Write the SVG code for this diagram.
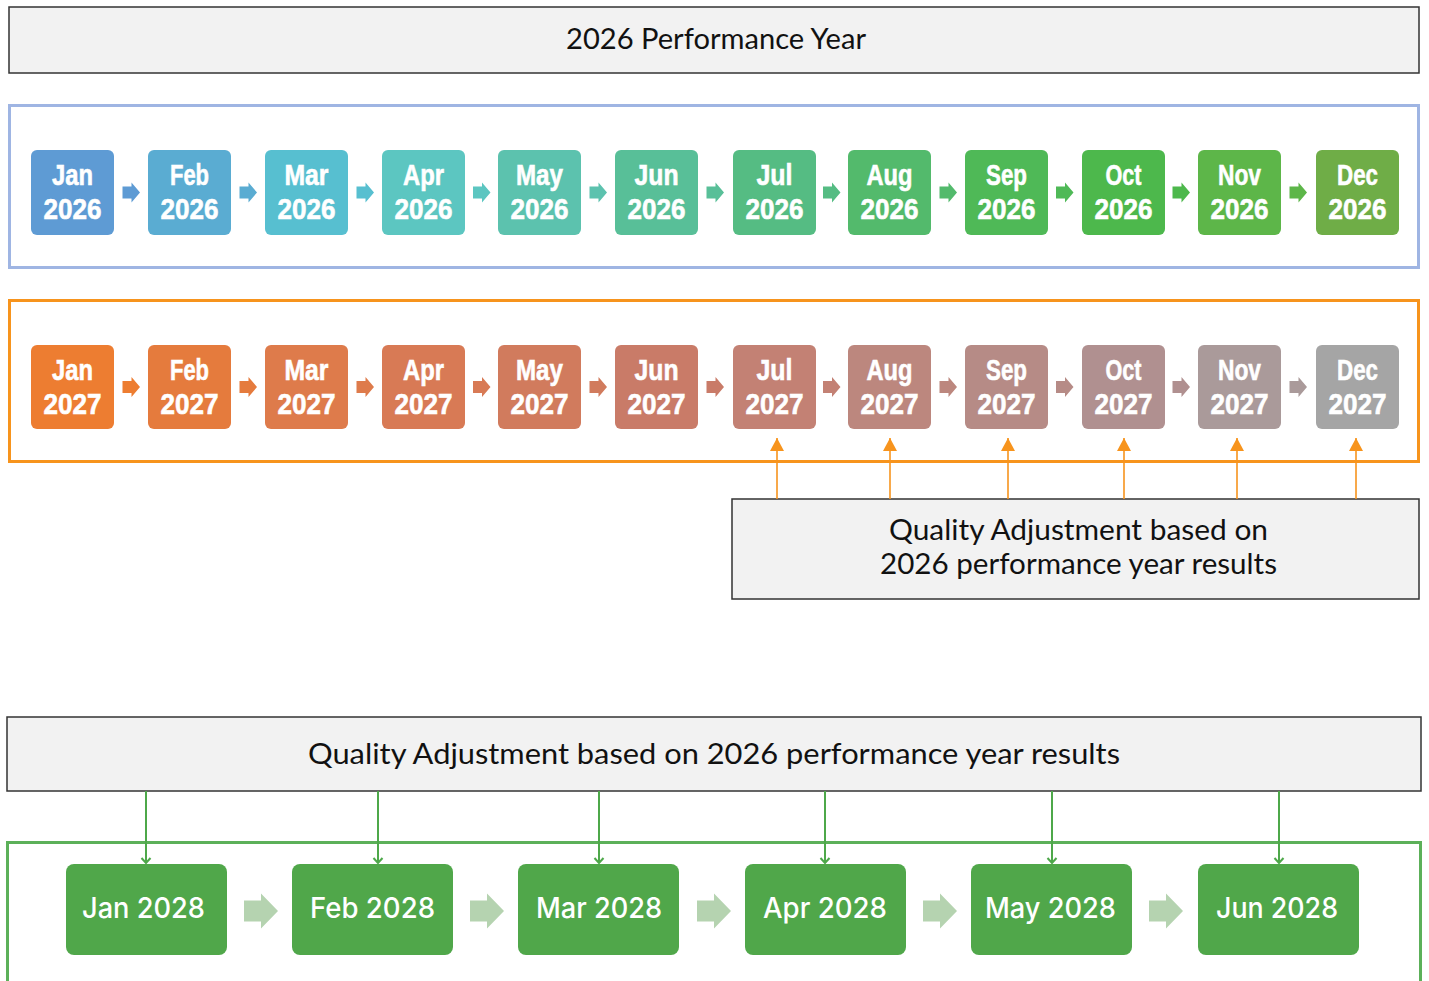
<svg xmlns="http://www.w3.org/2000/svg" xmlns:xlink="http://www.w3.org/1999/xlink" width="1429" height="981" viewBox="0 0 1429 981">
<style>
.hdr{fill:#f2f2f2;stroke:#333;stroke-width:1.5}
.ht{font-family:Lato,"Open Sans","Liberation Sans",sans-serif;font-size:29px;fill:#111;text-anchor:middle}
.m{font-family:"Liberation Sans",Arial,sans-serif;font-weight:bold;font-size:29px;fill:#fff;stroke:#fff;stroke-width:0.6;text-anchor:middle}
.b3{font-family:Inter,Lato,"Open Sans","Liberation Sans",sans-serif;font-weight:500;font-size:28px;fill:#fff;text-anchor:middle}
.oc{stroke:#f7941d;stroke-width:1.6;fill:none}
.gc{stroke:#4ea84a;stroke-width:2;fill:none}
</style>
<defs>
<path id="sa" d="M-8.5,-6 H0.5 V-10 L9,0 L0.5,10 V6 H-8.5 Z"/>
<path id="ba" d="M-17,-10.5 H0 V-17.5 L17,0 L0,17.5 V10.5 H-17 Z"/>
<marker id="oa" markerUnits="userSpaceOnUse" markerWidth="16" markerHeight="16" viewBox="0 0 16 16" refX="8" refY="1" orient="0">
<path d="M1,14 L8,1 L15,14 Z" fill="#f7941d"/>
</marker>
<marker id="ga" markerUnits="userSpaceOnUse" markerWidth="12" markerHeight="10" viewBox="0 0 12 10" refX="6" refY="8" orient="0">
<path d="M1.5,3 L6,8 L10.5,3" fill="none" stroke="#4ea84a" stroke-width="2"/>
</marker>
</defs>
<rect width="1429" height="981" fill="#fff"/>

<g id="title">
<rect class="hdr" x="9" y="7" width="1410" height="66"/>
<text class="ht" x="716" y="49" textLength="300" lengthAdjust="spacingAndGlyphs">2026 Performance Year</text>
</g>

<g id="row2026">
<rect x="9.5" y="105.5" width="1409" height="162" fill="none" stroke="#9fb5e3" stroke-width="3"/>
</g>
<g id="jan2026"><rect x="31" y="150" width="83" height="85" rx="6" fill="#5e9bd4"/><text class="m" x="72.5" y="185" textLength="41" lengthAdjust="spacingAndGlyphs">Jan</text><text class="m" x="72.5" y="219" textLength="58" lengthAdjust="spacingAndGlyphs">2026</text></g>
<g id="feb2026"><rect x="148" y="150" width="83" height="85" rx="6" fill="#5aacd2"/><text class="m" x="189.5" y="185" textLength="39" lengthAdjust="spacingAndGlyphs">Feb</text><text class="m" x="189.5" y="219" textLength="58" lengthAdjust="spacingAndGlyphs">2026</text></g>
<g id="mar2026"><rect x="265" y="150" width="83" height="85" rx="6" fill="#57bfd0"/><text class="m" x="306.5" y="185" textLength="44" lengthAdjust="spacingAndGlyphs">Mar</text><text class="m" x="306.5" y="219" textLength="58" lengthAdjust="spacingAndGlyphs">2026</text></g>
<g id="apr2026"><rect x="382" y="150" width="83" height="85" rx="6" fill="#5cc6c1"/><text class="m" x="423.5" y="185" textLength="41" lengthAdjust="spacingAndGlyphs">Apr</text><text class="m" x="423.5" y="219" textLength="58" lengthAdjust="spacingAndGlyphs">2026</text></g>
<g id="may2026"><rect x="498" y="150" width="83" height="85" rx="6" fill="#5cc2ae"/><text class="m" x="539.5" y="185" textLength="47" lengthAdjust="spacingAndGlyphs">May</text><text class="m" x="539.5" y="219" textLength="58" lengthAdjust="spacingAndGlyphs">2026</text></g>
<g id="jun2026"><rect x="615" y="150" width="83" height="85" rx="6" fill="#58bf98"/><text class="m" x="656.5" y="185" textLength="44" lengthAdjust="spacingAndGlyphs">Jun</text><text class="m" x="656.5" y="219" textLength="58" lengthAdjust="spacingAndGlyphs">2026</text></g>
<g id="jul2026"><rect x="733" y="150" width="83" height="85" rx="6" fill="#55bc83"/><text class="m" x="774.5" y="185" textLength="36" lengthAdjust="spacingAndGlyphs">Jul</text><text class="m" x="774.5" y="219" textLength="58" lengthAdjust="spacingAndGlyphs">2026</text></g>
<g id="aug2026"><rect x="848" y="150" width="83" height="85" rx="6" fill="#53ba6c"/><text class="m" x="889.5" y="185" textLength="46" lengthAdjust="spacingAndGlyphs">Aug</text><text class="m" x="889.5" y="219" textLength="58" lengthAdjust="spacingAndGlyphs">2026</text></g>
<g id="sep2026"><rect x="965" y="150" width="83" height="85" rx="6" fill="#4fb957"/><text class="m" x="1006.5" y="185" textLength="41" lengthAdjust="spacingAndGlyphs">Sep</text><text class="m" x="1006.5" y="219" textLength="58" lengthAdjust="spacingAndGlyphs">2026</text></g>
<g id="oct2026"><rect x="1082" y="150" width="83" height="85" rx="6" fill="#4db84c"/><text class="m" x="1123.5" y="185" textLength="36" lengthAdjust="spacingAndGlyphs">Oct</text><text class="m" x="1123.5" y="219" textLength="58" lengthAdjust="spacingAndGlyphs">2026</text></g>
<g id="nov2026"><rect x="1198" y="150" width="83" height="85" rx="6" fill="#5db649"/><text class="m" x="1239.5" y="185" textLength="43" lengthAdjust="spacingAndGlyphs">Nov</text><text class="m" x="1239.5" y="219" textLength="58" lengthAdjust="spacingAndGlyphs">2026</text></g>
<g id="dec2026"><rect x="1316" y="150" width="83" height="85" rx="6" fill="#6fad47"/><text class="m" x="1357.5" y="185" textLength="41" lengthAdjust="spacingAndGlyphs">Dec</text><text class="m" x="1357.5" y="219" textLength="58" lengthAdjust="spacingAndGlyphs">2026</text></g>

<g id="row2027">
<rect x="9.5" y="300.5" width="1409" height="161" fill="none" stroke="#f7941d" stroke-width="3"/>
</g>
<g id="jan2027"><rect x="31" y="345" width="83" height="84" rx="6" fill="#ed7d31"/><text class="m" x="72.5" y="380" textLength="41" lengthAdjust="spacingAndGlyphs">Jan</text><text class="m" x="72.5" y="414" textLength="58" lengthAdjust="spacingAndGlyphs">2027</text></g>
<g id="feb2027"><rect x="148" y="345" width="83" height="84" rx="6" fill="#e57b3d"/><text class="m" x="189.5" y="380" textLength="39" lengthAdjust="spacingAndGlyphs">Feb</text><text class="m" x="189.5" y="414" textLength="58" lengthAdjust="spacingAndGlyphs">2027</text></g>
<g id="mar2027"><rect x="265" y="345" width="83" height="84" rx="6" fill="#de7b4b"/><text class="m" x="306.5" y="380" textLength="44" lengthAdjust="spacingAndGlyphs">Mar</text><text class="m" x="306.5" y="414" textLength="58" lengthAdjust="spacingAndGlyphs">2027</text></g>
<g id="apr2027"><rect x="382" y="345" width="83" height="84" rx="6" fill="#d87a55"/><text class="m" x="423.5" y="380" textLength="41" lengthAdjust="spacingAndGlyphs">Apr</text><text class="m" x="423.5" y="414" textLength="58" lengthAdjust="spacingAndGlyphs">2027</text></g>
<g id="may2027"><rect x="498" y="345" width="83" height="84" rx="6" fill="#d17b5d"/><text class="m" x="539.5" y="380" textLength="47" lengthAdjust="spacingAndGlyphs">May</text><text class="m" x="539.5" y="414" textLength="58" lengthAdjust="spacingAndGlyphs">2027</text></g>
<g id="jun2027"><rect x="615" y="345" width="83" height="84" rx="6" fill="#c97b68"/><text class="m" x="656.5" y="380" textLength="44" lengthAdjust="spacingAndGlyphs">Jun</text><text class="m" x="656.5" y="414" textLength="58" lengthAdjust="spacingAndGlyphs">2027</text></g>
<g id="jul2027"><rect x="733" y="345" width="83" height="84" rx="6" fill="#c38174"/><text class="m" x="774.5" y="380" textLength="36" lengthAdjust="spacingAndGlyphs">Jul</text><text class="m" x="774.5" y="414" textLength="58" lengthAdjust="spacingAndGlyphs">2027</text></g>
<g id="aug2027"><rect x="848" y="345" width="83" height="84" rx="6" fill="#bc877e"/><text class="m" x="889.5" y="380" textLength="46" lengthAdjust="spacingAndGlyphs">Aug</text><text class="m" x="889.5" y="414" textLength="58" lengthAdjust="spacingAndGlyphs">2027</text></g>
<g id="sep2027"><rect x="965" y="345" width="83" height="84" rx="6" fill="#b68b86"/><text class="m" x="1006.5" y="380" textLength="41" lengthAdjust="spacingAndGlyphs">Sep</text><text class="m" x="1006.5" y="414" textLength="58" lengthAdjust="spacingAndGlyphs">2027</text></g>
<g id="oct2027"><rect x="1082" y="345" width="83" height="84" rx="6" fill="#b09090"/><text class="m" x="1123.5" y="380" textLength="36" lengthAdjust="spacingAndGlyphs">Oct</text><text class="m" x="1123.5" y="414" textLength="58" lengthAdjust="spacingAndGlyphs">2027</text></g>
<g id="nov2027"><rect x="1198" y="345" width="83" height="84" rx="6" fill="#aa9a9a"/><text class="m" x="1239.5" y="380" textLength="43" lengthAdjust="spacingAndGlyphs">Nov</text><text class="m" x="1239.5" y="414" textLength="58" lengthAdjust="spacingAndGlyphs">2027</text></g>
<g id="dec2027"><rect x="1316" y="345" width="83" height="84" rx="6" fill="#a5a5a5"/><text class="m" x="1357.5" y="380" textLength="41" lengthAdjust="spacingAndGlyphs">Dec</text><text class="m" x="1357.5" y="414" textLength="58" lengthAdjust="spacingAndGlyphs">2027</text></g>

<g id="qa1">
<rect class="hdr" x="732" y="499" width="687" height="100"/>
<text class="ht" x="1078.5" y="540" textLength="379" lengthAdjust="spacingAndGlyphs">Quality Adjustment based on</text>
<text class="ht" x="1078.5" y="574" textLength="397" lengthAdjust="spacingAndGlyphs">2026 performance year results</text>
</g>

<g id="qa2">
<rect class="hdr" x="7" y="717" width="1414" height="74"/>
<text class="ht" x="714" y="764" textLength="812" lengthAdjust="spacingAndGlyphs">Quality Adjustment based on 2026 performance year results</text>
</g>

<g id="row2028">
<rect x="7.5" y="842.5" width="1413" height="160" fill="none" stroke="#5cb059" stroke-width="3"/>
</g>
<g id="jan2028"><rect x="66" y="864" width="161" height="91" rx="8" fill="#50a74a"/><text class="b3" x="143.5" y="918" textLength="123" lengthAdjust="spacingAndGlyphs">Jan 2028</text></g>
<g id="feb2028"><rect x="292" y="864" width="161" height="91" rx="8" fill="#50a74a"/><text class="b3" x="372.5" y="918" textLength="125" lengthAdjust="spacingAndGlyphs">Feb 2028</text></g>
<g id="mar2028"><rect x="518" y="864" width="161" height="91" rx="8" fill="#50a74a"/><text class="b3" x="599" y="918" textLength="126" lengthAdjust="spacingAndGlyphs">Mar 2028</text></g>
<g id="apr2028"><rect x="745" y="864" width="161" height="91" rx="8" fill="#50a74a"/><text class="b3" x="825" y="918" textLength="124" lengthAdjust="spacingAndGlyphs">Apr 2028</text></g>
<g id="may2028"><rect x="971" y="864" width="161" height="91" rx="8" fill="#50a74a"/><text class="b3" x="1050.5" y="918" textLength="131" lengthAdjust="spacingAndGlyphs">May 2028</text></g>
<g id="jun2028"><rect x="1198" y="864" width="161" height="91" rx="8" fill="#50a74a"/><text class="b3" x="1277" y="918" textLength="122" lengthAdjust="spacingAndGlyphs">Jun 2028</text></g>

<g id="connectors">
<use href="#sa" x="131" y="192.5" fill="#5e9bd4"/>
<use href="#sa" x="248" y="192.5" fill="#5aacd2"/>
<use href="#sa" x="365" y="192.5" fill="#57bfd0"/>
<use href="#sa" x="481.5" y="192.5" fill="#5cc6c1"/>
<use href="#sa" x="598" y="192.5" fill="#5cc2ae"/>
<use href="#sa" x="715" y="192.5" fill="#58bf98"/>
<use href="#sa" x="831.5" y="192.5" fill="#55bc83"/>
<use href="#sa" x="948" y="192.5" fill="#53ba6c"/>
<use href="#sa" x="1064.5" y="192.5" fill="#4fb957"/>
<use href="#sa" x="1181" y="192.5" fill="#4db84c"/>
<use href="#sa" x="1298" y="192.5" fill="#5db649"/>

<use href="#sa" x="131" y="387" fill="#ed7d31"/>
<use href="#sa" x="248" y="387" fill="#e57b3d"/>
<use href="#sa" x="365" y="387" fill="#de7b4b"/>
<use href="#sa" x="481.5" y="387" fill="#d87a55"/>
<use href="#sa" x="598" y="387" fill="#d17b5d"/>
<use href="#sa" x="715" y="387" fill="#c97b68"/>
<use href="#sa" x="831.5" y="387" fill="#c38174"/>
<use href="#sa" x="948" y="387" fill="#bc877e"/>
<use href="#sa" x="1064.5" y="387" fill="#b68b86"/>
<use href="#sa" x="1181" y="387" fill="#b09090"/>
<use href="#sa" x="1298" y="387" fill="#aa9a9a"/>

<path class="oc" d="M777,499 V438" marker-end="url(#oa)"/>
<path class="oc" d="M890,499 V438" marker-end="url(#oa)"/>
<path class="oc" d="M1008,499 V438" marker-end="url(#oa)"/>
<path class="oc" d="M1124,499 V438" marker-end="url(#oa)"/>
<path class="oc" d="M1237,499 V438" marker-end="url(#oa)"/>
<path class="oc" d="M1356,499 V438" marker-end="url(#oa)"/>

<path class="gc" d="M146,791 V863" marker-end="url(#ga)"/>
<path class="gc" d="M378,791 V863" marker-end="url(#ga)"/>
<path class="gc" d="M599,791 V863" marker-end="url(#ga)"/>
<path class="gc" d="M825,791 V863" marker-end="url(#ga)"/>
<path class="gc" d="M1052,791 V863" marker-end="url(#ga)"/>
<path class="gc" d="M1279,791 V863" marker-end="url(#ga)"/>

<use href="#ba" x="261" y="911" fill="#b5d3b0"/>
<use href="#ba" x="487" y="911" fill="#b5d3b0"/>
<use href="#ba" x="714" y="911" fill="#b5d3b0"/>
<use href="#ba" x="940" y="911" fill="#b5d3b0"/>
<use href="#ba" x="1166" y="911" fill="#b5d3b0"/>
</g>
</svg>
